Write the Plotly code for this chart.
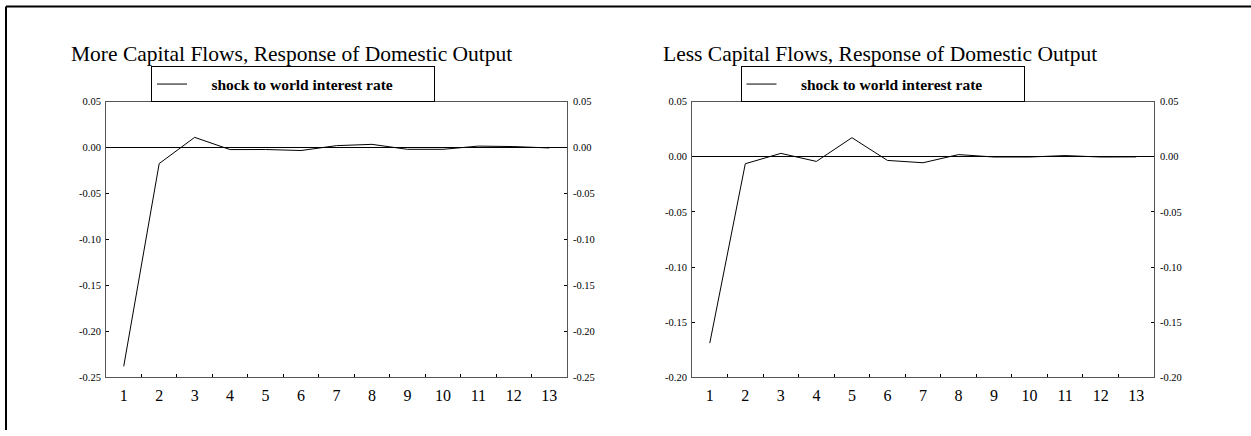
import plotly.graph_objects as go

# Impulse-response data: response of domestic output to a shock to the world interest rate
periods = [str(i) for i in range(1, 14)]
more_flows = [-0.238, -0.0175, 0.011, -0.0023, -0.0022, -0.0033, 0.002, 0.0034,
              -0.002, -0.002, 0.0015, 0.001, -0.0005]
less_flows = [-0.169, -0.0064, 0.003, -0.0043, 0.0172, -0.0034, -0.0055, 0.0019,
              -0.0003, -0.0003, 0.001, -0.0003, -0.0002]

left_title = "More Capital Flows, Response of Domestic Output"
right_title = "Less Capital Flows, Response of Domestic Output"
series_name = "shock to world interest rate"

left_ticks = [-0.25, -0.20, -0.15, -0.10, -0.05, 0.00, 0.05]
right_ticks = [-0.20, -0.15, -0.10, -0.05, 0.00, 0.05]

W, H = 1251, 436
SERIF = "Liberation Serif"
AXIS_GREY = "#555555"


def px_x(p):
    return p / W


def px_y(p):
    return 1 - p / H


y_dom = [px_y(382), px_y(99)]
left_dom = [px_x(106), px_x(567)]
right_dom = [px_x(692), px_x(1154)]

fig = go.Figure()

legend_label = "\u00a0\u00a0\u00a0\u00a0\u00a0<b>" + series_name + "</b>"
line_style = dict(color="black", width=1)
fig.add_trace(go.Scatter(x=periods, y=more_flows, mode="lines", line=line_style,
                         name=legend_label, xaxis="x", yaxis="y",
                         legend="legend"))
fig.add_trace(go.Scatter(x=periods, y=more_flows, mode="lines",
                         line=dict(width=0), showlegend=False, hoverinfo="skip",
                         xaxis="x", yaxis="y2"))
fig.add_trace(go.Scatter(x=periods, y=less_flows, mode="lines", line=line_style,
                         name=legend_label, xaxis="x2", yaxis="y3",
                         legend="legend2"))
fig.add_trace(go.Scatter(x=periods, y=less_flows, mode="lines",
                         line=dict(width=0), showlegend=False, hoverinfo="skip",
                         xaxis="x2", yaxis="y4"))


def fmt(v):
    return f"{v:.2f}"


def xaxis(dom, anchor):
    return dict(domain=dom, anchor=anchor, type="category", tickson="boundaries",
                ticks="inside", ticklen=3, tickcolor="black", showline=True,
                linecolor=AXIS_GREY, linewidth=1, mirror=True, showgrid=False,
                zeroline=False, tickfont=dict(family=SERIF, size=16, color="black"),
                ticklabelstandoff=3, range=[-0.5, 12.5], fixedrange=True)


def yaxis(anchor, ticks, side="left", overlay=None, main=True):
    d = dict(domain=y_dom, anchor=anchor, range=[ticks[0], ticks[-1]],
             tickmode="array", tickvals=ticks, ticktext=[fmt(v) for v in ticks],
             tickfont=dict(family=SERIF, size=10.5, color="black"), side=side,
             showgrid=False, fixedrange=True)
    if main:
        d.update(ticks="inside", ticklen=3, tickcolor="black", showline=True,
                 linecolor=AXIS_GREY, linewidth=1, mirror="ticks",
                 zeroline=True, zerolinecolor="black", zerolinewidth=1,
                 ticklabelstandoff=2)
    else:
        d.update(ticks="", showline=False, zeroline=False, overlaying=overlay,
                 ticklabelstandoff=5)
    return d


legend_common = dict(orientation="h", xanchor="center", yanchor="bottom",
                     bordercolor="black", borderwidth=1, bgcolor="white",
                     font=dict(family=SERIF, size=15.5, color="black"),
                     entrywidth=237, entrywidthmode="pixels", itemwidth=30)

title_font = dict(family=SERIF, size=21.5, color="black")

fig.update_layout(
    width=W, height=H,
    margin=dict(l=0, r=0, t=0, b=0),
    paper_bgcolor="white", plot_bgcolor="white",
    showlegend=True,
    xaxis=xaxis(left_dom, "y"),
    yaxis=yaxis("x", left_ticks),
    yaxis2=yaxis("x", left_ticks, side="right", overlay="y", main=False),
    xaxis2=xaxis(right_dom, "y3"),
    yaxis3=yaxis("x2", right_ticks),
    yaxis4=yaxis("x2", right_ticks, side="right", overlay="y3", main=False),
    legend=dict(x=px_x(293), y=px_y(100), **legend_common),
    legend2=dict(x=px_x(882.5), y=px_y(100), **legend_common),
    annotations=[
        dict(text=left_title, x=px_x(291.5), y=px_y(50), xref="paper", yref="paper",
             xanchor="center", yanchor="middle", showarrow=False, font=title_font),
        dict(text=right_title, x=px_x(880), y=px_y(50), xref="paper", yref="paper",
             xanchor="center", yanchor="middle", showarrow=False, font=title_font),
    ],
    shapes=[
        dict(type="line", xref="paper", yref="paper", x0=px_x(6), x1=1,
             y0=px_y(1.5), y1=px_y(1.5), line=dict(color="black", width=2)),
        dict(type="line", xref="paper", yref="paper", x0=px_x(6), x1=px_x(6),
             y0=0, y1=px_y(1.5), line=dict(color="black", width=2)),
    ],
)

fig.write_html("out.html")
